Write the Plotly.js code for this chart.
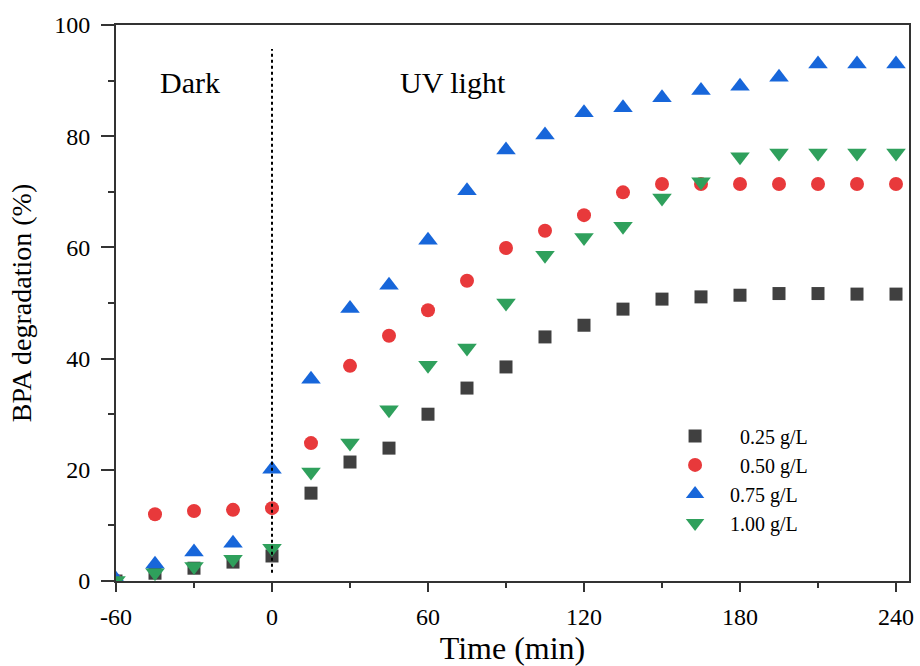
<!DOCTYPE html>
<html>
<head>
<meta charset="utf-8">
<script src="https://cdn.plot.ly/plotly-3.0.1.min.js"></script>
<style>
  html, body { margin: 0; padding: 0; background: #ffffff; }
  #chart { width: 920px; height: 666px; }
</style>
</head>
<body>
<div id="chart"></div>
<script>
// ---- data ----
const time = [-60, -45, -30, -15, 0, 15, 30, 45, 60, 75, 90, 105, 120, 135, 150, 165, 180, 195, 210, 225, 240];

const seriesNames = ["\u00a0\u00a0\u00a0\u00a0\u00a00.25 g/L", "\u00a0\u00a0\u00a0\u00a0\u00a00.50 g/L", "\u00a0\u00a0\u00a00.75 g/L", "\u00a0\u00a0\u00a01.00 g/L"];

const bpa025 = [0, 1.4, 2.3, 3.4, 4.5, 15.8, 21.4, 23.9, 30.0, 34.7, 38.5, 43.9, 46.0, 48.9, 50.7, 51.1, 51.4, 51.7, 51.7, 51.6, 51.6];
const bpa050 = [0, 12.0, 12.6, 12.8, 13.1, 24.8, 38.7, 44.1, 48.7, 54.0, 59.9, 63.0, 65.8, 69.9, 71.4, 71.4, 71.4, 71.4, 71.4, 71.4, 71.4];
const bpa075 = [0.3, 3.0, 5.2, 6.8, 20.1, 36.3, 49.0, 53.2, 61.3, 70.2, 77.5, 80.2, 84.2, 85.1, 86.9, 88.2, 89.0, 90.6, 93.0, 93.0, 93.0];
const bpa100 = [0.1, 1.5, 2.6, 3.9, 5.9, 19.6, 24.8, 30.8, 38.8, 41.9, 50.0, 58.6, 61.8, 63.8, 68.9, 71.8, 76.3, 77.0, 77.0, 77.0, 77.0];

const xTicks = [-60, 0, 60, 120, 180, 240];
const yTicks = [0, 20, 40, 60, 80, 100];

const boundaryTime = 0;          // dark / UV switch
const boundarySpan = [1.5, 95.7];

const regionLabels = ["Dark", "UV light"];
const regionLabelX = [-31.5, 69.6];
const regionLabelY = [89.6, 89.6];

// ---- styling ----
const FONT = "Liberation Serif, Times New Roman, serif";
const colors = ["#404040", "#e8393b", "#1766da", "#2fa05c"];
const symbols = ["square", "circle", "triangle-up", "triangle-down"];
const sizes = [13, 14, 17, 17];
const allY = [bpa025, bpa050, bpa075, bpa100];

const traces = allY.map((ys, i) => ({
  type: "scatter",
  mode: "markers",
  x: time,
  y: ys,
  name: seriesNames[i],
  cliponaxis: true,
  marker: { symbol: symbols[i], size: sizes[i], color: colors[i], line: { width: 0 } }
}));

const layout = {
  width: 920,
  height: 666,
  paper_bgcolor: "#ffffff",
  plot_bgcolor: "#ffffff",
  margin: { l: 116, r: 11, t: 25, b: 85 },
  font: { family: FONT, color: "#000000", size: 22 },
  showlegend: true,
  legend: {
    x: 0.705, y: 0.296, xanchor: "left", yanchor: "top",
    bgcolor: "rgba(0,0,0,0)", borderwidth: 0,
    font: { family: FONT, size: 20, color: "#000000" },
    tracegroupgap: 0
  },
  xaxis: {
    range: [-60, 245],
    tickmode: "array",
    tickvals: xTicks,
    ticktext: xTicks.map(String),
    ticks: "outside", ticklen: 9, tickwidth: 2, tickcolor: "#333333",
    minor: { tickmode: "linear", tick0: -30, dtick: 60, ticks: "outside", ticklen: 5, tickwidth: 2, tickcolor: "#333333", showgrid: false },
    showline: true, linecolor: "#333333", linewidth: 2, mirror: true,
    showgrid: false, zeroline: false,
    tickfont: { family: FONT, size: 24, color: "#000000" },
    ticklabelstandoff: 4,
    title: { text: "Time (min)", font: { family: FONT, size: 32, color: "#000000" }, standoff: 15 }
  },
  yaxis: {
    range: [0, 100],
    tickmode: "array",
    tickvals: yTicks,
    ticktext: yTicks.map(String),
    ticks: "outside", ticklen: 13, tickwidth: 2, tickcolor: "#333333",
    minor: { tickmode: "linear", tick0: 10, dtick: 20, ticks: "outside", ticklen: 6, tickwidth: 2, tickcolor: "#333333", showgrid: false },
    showline: true, linecolor: "#333333", linewidth: 2, mirror: true,
    showgrid: false, zeroline: false,
    tickfont: { family: FONT, size: 24, color: "#000000" },
    ticklabelstandoff: 6,
    title: { text: "BPA degradation (%)", font: { family: FONT, size: 28, color: "#000000" }, standoff: 14 }
  },
  shapes: [{
    type: "line", xref: "x", yref: "y",
    x0: boundaryTime, x1: boundaryTime, y0: boundarySpan[0], y1: boundarySpan[1],
    line: { color: "#000000", width: 2, dash: "dot" }
  }],
  annotations: regionLabels.map((t, i) => ({
    text: t, x: regionLabelX[i], y: regionLabelY[i], xref: "x", yref: "y",
    showarrow: false, xanchor: "center", yanchor: "middle",
    font: { family: FONT, size: 30, color: "#000000" }
  }))
};

Plotly.newPlot("chart", traces, layout, { displayModeBar: false, staticPlot: true });
</script>
</body>
</html>
